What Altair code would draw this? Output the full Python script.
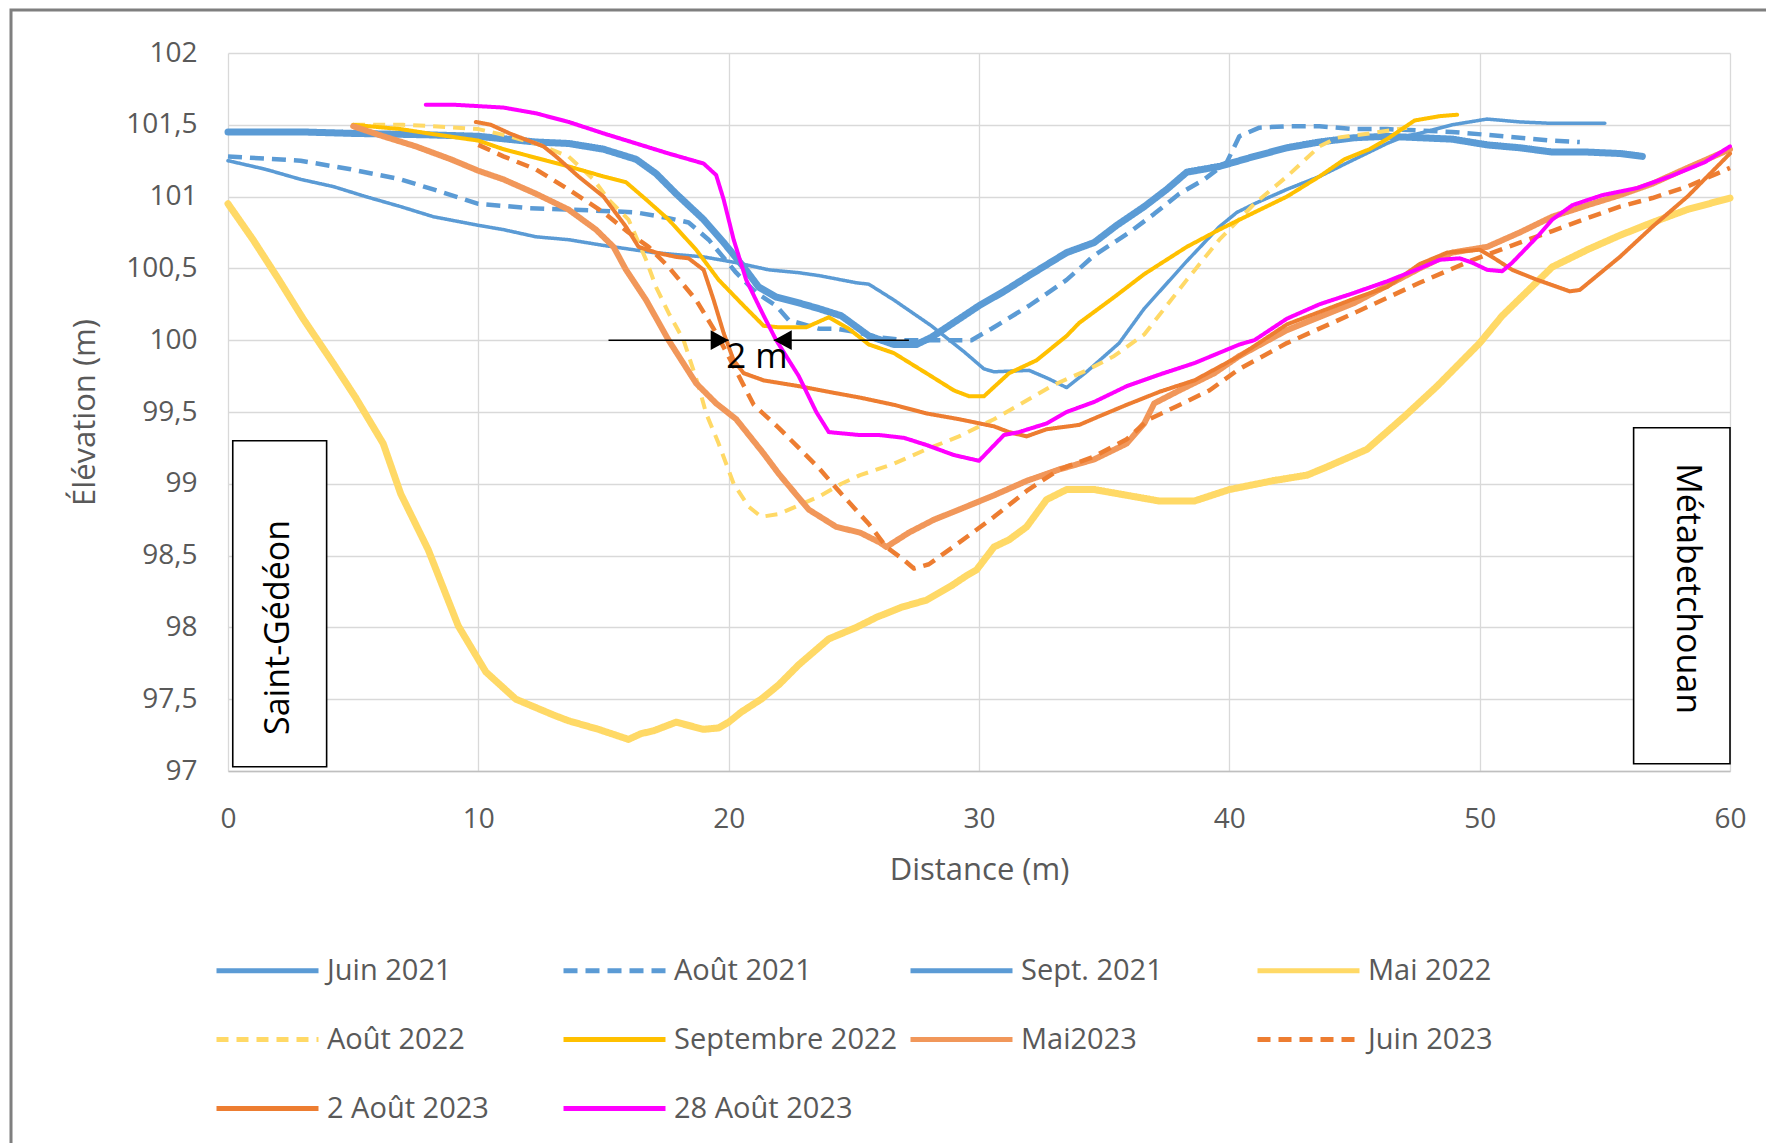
import altair as alt
import pandas as pd

# ---------------- data ----------------
series_names = ["Juin 2021", "Août 2021", "Sept. 2021", "Mai 2022", "Août 2022",
                "Septembre 2022", "Mai2023", "Juin 2023", "2 Août 2023", "28 Août 2023"]

juin2021_x = [0, 3, 5, 8, 10, 12.3, 13.6, 15, 16.3, 17.1, 17.9, 19, 19.8, 20.6, 21.2, 21.9, 22.8, 23.6,
              24.5, 25.6, 26.6, 27.5, 28.1, 29.4, 30, 31, 32, 33.5, 34.6, 35.5, 36.6, 37.5, 38.3, 39.6,
              41, 42.3, 43.6, 45, 46.3, 47.6, 48.9, 50.3, 51.6, 52.9, 54.3, 55.6, 56.5]
juin2021_y = [101.45, 101.45, 101.44, 101.43, 101.42, 101.38, 101.37, 101.33, 101.26, 101.16, 101.02,
              100.84, 100.68, 100.51, 100.37, 100.3, 100.26, 100.22, 100.17, 100.03, 99.97, 99.97, 100.02,
              100.17, 100.24, 100.34, 100.45, 100.61, 100.68, 100.8, 100.93, 101.05, 101.17, 101.21,
              101.28, 101.34, 101.38, 101.41, 101.42, 101.41, 101.4, 101.36, 101.34, 101.31, 101.31,
              101.3, 101.28]

aout2021_x = [0, 2.9, 4.9, 6.9, 8.2, 10, 12, 13.6, 15, 16.3, 17.6, 18.4, 19.2, 20.3, 21.1, 21.9, 22.4,
              22.8, 23.6, 24.3, 25, 26, 27, 28, 29, 29.7, 30.5, 32, 33.5, 34.6, 36, 37, 38, 39, 39.9,
              40.4, 41.2, 42.3, 43.6, 45, 46.3, 47.6, 48.9, 50.3, 51.6, 52.9, 54]
aout2021_y = [101.28, 101.25, 101.19, 101.12, 101.05, 100.95, 100.92, 100.91, 100.9, 100.89, 100.85,
              100.82, 100.7, 100.47, 100.33, 100.24, 100.14, 100.12, 100.08, 100.08, 100.06, 100.02,
              100.0, 100.0, 100.0, 100.0, 100.08, 100.24, 100.42, 100.59, 100.75, 100.88, 101.02,
              101.12, 101.24, 101.42, 101.48, 101.49, 101.49, 101.47, 101.47, 101.46, 101.45, 101.43,
              101.41, 101.39, 101.38]

sept2021_x = [0, 1.5, 2.9, 4.2, 5.5, 6.9, 8.2, 10, 11, 12.3, 13.6, 15, 15.8, 17, 19, 20.3, 21.6, 22.8,
              23.6, 25.1, 25.6, 26.6, 28.1, 29.4, 30.2, 30.6, 32, 32.8, 33.5, 34.3, 35.6, 36.6, 38.3,
              39.6, 40.3, 41, 42.3, 43.6, 45, 46.3, 47, 47.6, 48.9, 50.3, 51.6, 52.9, 55]
sept2021_y = [101.25, 101.19, 101.12, 101.07, 101.0, 100.93, 100.86, 100.8, 100.77, 100.72, 100.7,
              100.66, 100.64, 100.61, 100.58, 100.54, 100.49, 100.47, 100.45, 100.4, 100.39, 100.28,
              100.1, 99.92, 99.8, 99.78, 99.79, 99.73, 99.67, 99.78, 99.98, 100.22, 100.55, 100.79,
              100.89, 100.95, 101.05, 101.14, 101.26, 101.37, 101.42, 101.44, 101.5, 101.54, 101.52,
              101.51, 101.51]

mai2022_x = [0, 1, 2, 3, 4.2, 5.1, 6.2, 6.9, 8, 9.2, 10.3, 11.5, 13, 13.6, 14.8, 16, 16.5, 17, 17.9,
             19, 19.6, 20, 20.5, 21.3, 22, 22.8, 23.6, 24, 25.1, 25.9, 26.9, 27.9, 28.9, 29.5, 29.9,
             30.6, 31.2, 31.9, 32.7, 33.5, 34.6, 35.9, 37.2, 38.6, 40, 41.7, 43.1, 43.8, 45.5, 47,
             48.3, 50, 50.9, 52.9, 54.3, 55.6, 56.9, 58.3, 60]
mai2022_y = [100.95, 100.7, 100.43, 100.15, 99.84, 99.6, 99.28, 98.93, 98.54, 98.01, 97.69, 97.5,
             97.39, 97.35, 97.29, 97.22, 97.26, 97.28, 97.34, 97.29, 97.3, 97.34, 97.41, 97.5, 97.6,
             97.74, 97.86, 97.92, 98.0, 98.07, 98.14, 98.19, 98.29, 98.36, 98.4, 98.56, 98.61, 98.7,
             98.89, 98.96, 98.96, 98.92, 98.88, 98.88, 98.96, 99.02, 99.06, 99.11, 99.24, 99.47,
             99.68, 99.98, 100.17, 100.51, 100.63, 100.73, 100.82, 100.91, 100.99]

aout2022_x = [5, 7, 8.2, 10, 11, 12.3, 13.6, 14.6, 15.2, 16, 16.7, 17.1, 17.6, 18.2, 18.8, 19.1, 19.6,
              20.2, 20.8, 21.3, 22, 23.6, 24.5, 25.25, 26.6, 27.9, 29.2, 30.6, 31.9, 33, 34.3, 35.4,
              36.6, 38.3, 39.6, 41, 42.3, 43.6, 44.3, 45.6, 47.1]
aout2022_y = [101.5, 101.5, 101.49, 101.47, 101.43, 101.37, 101.28, 101.12, 100.98, 100.84, 100.56,
              100.37, 100.19, 100.0, 99.68, 99.49, 99.28, 99.0, 98.84, 98.77, 98.79, 98.91, 99.0,
              99.06, 99.14, 99.24, 99.33, 99.45, 99.58, 99.69, 99.79, 99.89, 100.04, 100.42, 100.7,
              100.95, 101.14, 101.35, 101.41, 101.44, 101.48]

sep2022_x = [5, 6.9, 8, 10, 11, 12.3, 13.6, 15, 15.9, 16.7, 17.6, 18.7, 19.6, 20.6, 21.4, 22, 23.1,
             24, 24.8, 25.6, 26.6, 27.9, 29, 29.6, 30.2, 31.2, 32.3, 33.5, 34, 35.4, 36.6, 38.3, 39.6,
             41, 42.3, 43.6, 44.6, 45.6, 46.3, 47.4, 48.4, 49.1]
sep2022_y = [101.5, 101.47, 101.44, 101.39, 101.33, 101.27, 101.21, 101.14, 101.1, 100.98, 100.84,
             100.63, 100.42, 100.24, 100.1, 100.09, 100.09, 100.16, 100.08, 99.97, 99.91, 99.77,
             99.65, 99.61, 99.61, 99.77, 99.86, 100.03, 100.12, 100.3, 100.46, 100.65, 100.77, 100.89,
             101.0, 101.14, 101.26, 101.33, 101.4, 101.53, 101.56, 101.57]

mai2023_x = [5, 6.2, 7.5, 8.9, 10, 11, 12.3, 13.6, 14.7, 15.4, 15.9, 16.7, 17.6, 18.7, 19.5, 20.3,
             21.4, 22, 23.2, 24.3, 25.25, 26.05, 26.3, 27.2, 28.2, 29.2, 30.6, 31.9, 33.2, 34.6, 35.9,
             36.6, 37, 38, 39.4, 40.4, 42.3, 45, 47.6, 48.9, 50.3, 51.6, 52.9, 54.3, 55.6, 56.9, 58.3, 60]
mai2023_y = [101.49, 101.42, 101.35, 101.26, 101.18, 101.12, 101.02, 100.91, 100.77, 100.65, 100.49,
             100.28, 100.0, 99.7, 99.56, 99.45, 99.21, 99.07, 98.82, 98.7, 98.66, 98.59, 98.56,
             98.66, 98.75, 98.82, 98.92, 99.02, 99.1, 99.17, 99.28, 99.42, 99.56, 99.65, 99.77,
             99.89, 100.07, 100.26, 100.5, 100.61, 100.65, 100.75, 100.86, 100.94, 101.01, 101.09,
             101.2, 101.33]

juin2023_x = [10, 11, 12.3, 13.6, 15, 16, 16.8, 17.6, 18.7, 19.5, 20.2, 21, 22, 23.6, 24.5, 25.6,
              26.3, 27, 27.4, 28, 29.2, 30.6, 31.9, 33.2, 34.6, 35.9, 36.8, 37.9, 39.2, 40.4, 42.3,
              45, 47.6, 49.6, 51.6, 52.9, 54.3, 55.6, 56.9, 58.3, 60]
juin2023_y = [101.36, 101.28, 101.19, 101.05, 100.89, 100.75, 100.65, 100.51, 100.28, 100.05, 99.82,
              99.55, 99.39, 99.11, 98.93, 98.72, 98.56, 98.47, 98.41, 98.44, 98.59, 98.77, 98.95,
              99.1, 99.19, 99.31, 99.45, 99.54, 99.65, 99.8, 99.98, 100.19, 100.4, 100.55, 100.68,
              100.76, 100.85, 100.93, 100.99, 101.07, 101.2]

aout2023a_x = [9.9, 10.5, 11.25, 12.3, 12.6, 13.1, 14, 15, 15.9, 16.4, 17.1, 17.9, 18.4, 19, 19.4,
               19.8, 20.2, 20.6, 21.4, 22.8, 24, 25.25, 26.6, 27.9, 29.2, 30.6, 31.2, 31.9, 32.7, 34,
               34.8, 35.9, 37.2, 38.6, 40.4, 42.3, 45, 46.3, 47.6, 48.7, 50, 50.5, 51.3, 52.3, 53.6,
               54, 55.6, 56.9, 58.3, 60]
aout2023a_y = [101.52, 101.5, 101.44, 101.37, 101.35, 101.28, 101.14, 101.0, 100.79, 100.65, 100.61,
               100.58, 100.57, 100.49, 100.28, 100.05, 99.86, 99.77, 99.72, 99.68, 99.64, 99.6, 99.55,
               99.49, 99.45, 99.4, 99.36, 99.33, 99.38, 99.41, 99.47, 99.55, 99.64, 99.72, 99.89,
               100.11, 100.29, 100.37, 100.53, 100.61, 100.63, 100.58, 100.49, 100.42, 100.34,
               100.35, 100.58, 100.79, 101.0, 101.3]

aout2023b_x = [7.9, 9, 10, 11, 12.3, 13.6, 15, 16.3, 17.6, 19, 19.5, 19.8, 20.2, 20.7, 21.4, 21.9,
               22.8, 23.5, 24, 25.2, 26, 27, 27.9, 29, 30, 31, 31.6, 32.7, 33.5, 34.6, 35.9, 37.2,
               38.6, 40.4, 41, 42.3, 43.6, 45, 46.3, 47.6, 48.4, 49.2, 49.7, 50.3, 50.9, 51.3, 52.3,
               52.9, 53.7, 54.9, 56.3, 57.6, 59, 60]
aout2023b_y = [101.64, 101.64, 101.63, 101.62, 101.58, 101.52, 101.44, 101.37, 101.3, 101.23, 101.15,
               100.98, 100.7, 100.42, 100.17, 100.0, 99.75, 99.5, 99.36, 99.34, 99.34, 99.32, 99.27,
               99.2, 99.16, 99.34, 99.36, 99.42, 99.5, 99.57, 99.68, 99.76, 99.84, 99.97, 100.0,
               100.15, 100.25, 100.33, 100.41, 100.5, 100.56, 100.57, 100.54, 100.49, 100.48, 100.54,
               100.72, 100.84, 100.94, 101.01, 101.06, 101.14, 101.24, 101.35]

series_x = [juin2021_x, aout2021_x, sept2021_x, mai2022_x, aout2022_x,
            sep2022_x, mai2023_x, juin2023_x, aout2023a_x, aout2023b_x]
series_y = [juin2021_y, aout2021_y, sept2021_y, mai2022_y, aout2022_y,
            sep2022_y, mai2023_y, juin2023_y, aout2023a_y, aout2023b_y]

# annotations (data units)
box_labels = ["Saint-Gédéon", "Métabetchouan"]
box_x0 = [0.19, 56.15]
box_x1 = [3.94, 60.0]
box_y0 = [97.03, 97.05]
box_y1 = [99.30, 99.39]
box_text_x = [2.05, 58.3]
box_text_y = [98.0, 98.27]

arrow_from = [15.2, 27.2]
arrow_to = [20.0, 21.8]
arrow_y = [100.0, 100.0]
span_label = ["2 m"]
span_label_x = [21.13]
span_label_y = [99.885]

x_ticks = [0, 10, 20, 30, 40, 50, 60]
y_ticks = [97, 97.5, 98, 98.5, 99, 99.5, 100, 100.5, 101, 101.5, 102]

# ---------------- styles ----------------
colors = ["#5B9BD5", "#5B9BD5", "#5B9BD5", "#FFD966", "#FFD966",
          "#FFC000", "#F1975A", "#ED7D31", "#ED7D31", "#FF00FF"]
dashes = [[1, 0], [14, 8], [1, 0], [1, 0], [12, 8],
          [1, 0], [1, 0], [13, 8], [1, 0], [1, 0]]
widths = [7, 4.5, 3.5, 7, 4, 4, 6, 4.5, 4, 4]

FONT = "Open Sans"
GRID = "#D9D9D9"
TXT = "#595959"

rows = []
for name, xs, ys in zip(series_names, series_x, series_y):
    for i, (a, b) in enumerate(zip(xs, ys)):
        rows.append({"serie": name, "distance": a, "elev": b, "i": i})
df = pd.DataFrame(rows)

def X(field):
    return alt.X(field, type="quantitative", title="Distance (m)",
                 scale=alt.Scale(domain=[0, 60], nice=False, zero=False),
                 axis=alt.Axis(values=x_ticks, grid=True, gridColor=GRID, gridWidth=1.3,
                               ticks=False, domain=True, domainColor="#BFBFBF", domainWidth=1.6,
                               labelFlush=False,
                               labelFontSize=28, labelColor=TXT, labelPadding=34, labelFont=FONT,
                               titleFontSize=31, titleColor=TXT, titleFontWeight="normal",
                               titleFont=FONT, titlePadding=22))

def Y(field):
    return alt.Y(field, type="quantitative", title="Élévation (m)",
                 scale=alt.Scale(domain=[97, 102], nice=False, zero=False),
                 axis=alt.Axis(values=y_ticks, grid=True, gridColor=GRID, gridWidth=1.3,
                               ticks=False, domain=False, labelFlush=False,
                               labelExpr="replace(format(datum.value, '~g'), '.', ',')",
                               labelFontSize=28, labelColor=TXT, labelPadding=31, labelFont=FONT,
                               titleFontSize=31, titleColor=TXT, titleFontWeight="normal",
                               titleFont=FONT, titlePadding=24))

legend_def = dict(title=None, direction="horizontal", columns=4)

base = alt.Chart(df).encode(
    x=X("distance"),
    y=Y("elev"),
    order=alt.Order("i:Q"),
    color=alt.Color("serie:N", scale=alt.Scale(domain=series_names, range=colors),
                    legend=alt.Legend(**legend_def)),
    strokeDash=alt.StrokeDash("serie:N", scale=alt.Scale(domain=series_names, range=dashes),
                              legend=alt.Legend(**legend_def)),
)

line_layers = []
for name, d, w in zip(series_names, dashes, widths):
    solid = d == [1, 0]
    lyr = base.transform_filter(alt.datum.serie == name).mark_line(
        strokeWidth=w, strokeCap="round" if solid else "butt", strokeJoin="round")
    line_layers.append(lyr)

# frame of the chart area (decoration)
frame = alt.Chart(pd.DataFrame({"k": [0]})).mark_rect(
    fill=None, stroke="#7F7F7F", strokeWidth=3).encode(
    x=alt.value(-217), x2=alt.value(1700), y=alt.value(-43), y2=alt.value(1300))

boxes_df = pd.DataFrame({"distance": box_x0, "distance2": box_x1,
                         "elev": box_y0, "elev2": box_y1})
boxes = alt.Chart(boxes_df).mark_rect(fill="white", stroke="black", strokeWidth=1.6).encode(
    x=X("distance"), x2="distance2", y=Y("elev"), y2="elev2")

lab_df = pd.DataFrame({"distance": box_text_x, "elev": box_text_y, "t": box_labels})
lab_left = alt.Chart(lab_df.iloc[[0]]).mark_text(
    angle=270, fontSize=34, font=FONT, color="black", align="center", baseline="middle").encode(
    x=X("distance"), y=Y("elev"), text="t:N")
lab_right = alt.Chart(lab_df.iloc[[1]]).mark_text(
    angle=90, fontSize=34, font=FONT, color="black", align="center", baseline="middle").encode(
    x=X("distance"), y=Y("elev"), text="t:N")

arr_df = pd.DataFrame({"distance": arrow_from, "distance2": arrow_to, "elev": arrow_y})
arr_lines = alt.Chart(arr_df).mark_rule(color="black", strokeWidth=1.6).encode(
    x=X("distance"), x2="distance2", y=Y("elev"))
head_r = alt.Chart(arr_df.iloc[[0]]).mark_point(
    shape="M0,0L-1,-0.55L-1,0.55Z", filled=True, size=1296, color="black", opacity=1,
    strokeWidth=0).encode(x=X("distance2"), y=Y("elev"))
head_l = alt.Chart(arr_df.iloc[[1]]).mark_point(
    shape="M0,0L1,-0.55L1,0.55Z", filled=True, size=1296, color="black", opacity=1,
    strokeWidth=0).encode(x=X("distance2"), y=Y("elev"))

span_df = pd.DataFrame({"distance": span_label_x, "elev": span_label_y, "t": span_label})
span_txt = alt.Chart(span_df).mark_text(
    fontSize=35, font=FONT, color="black", align="center", baseline="middle").encode(
    x=X("distance"), y=Y("elev"), text="t:N")

chart = alt.layer(
    frame, *line_layers, boxes, lab_left, lab_right, arr_lines, head_r, head_l, span_txt
).properties(
    width=1502, height=718,
    autosize=alt.AutoSizeParams(type="none"),
    padding={"left": 220, "top": 45, "right": 36, "bottom": 372},
    background="white",
).configure_view(
    stroke=None
).configure_legend(
    orient="none", legendX=-14, legendY=864, columns=4, gridAlign="all",
    direction="horizontal",
    symbolType="stroke", symbolSize=10404, symbolStrokeWidth=5, labelFontSize=29, labelFont=FONT,
    labelColor=TXT, labelOffset=6, columnPadding=2, rowPadding=-7.5, padding=0,
    symbolOpacity=1, labelLimit=400
).configure_text(font=FONT)

chart.save("out.html", embed_options={"renderer": "svg", "actions": False})
